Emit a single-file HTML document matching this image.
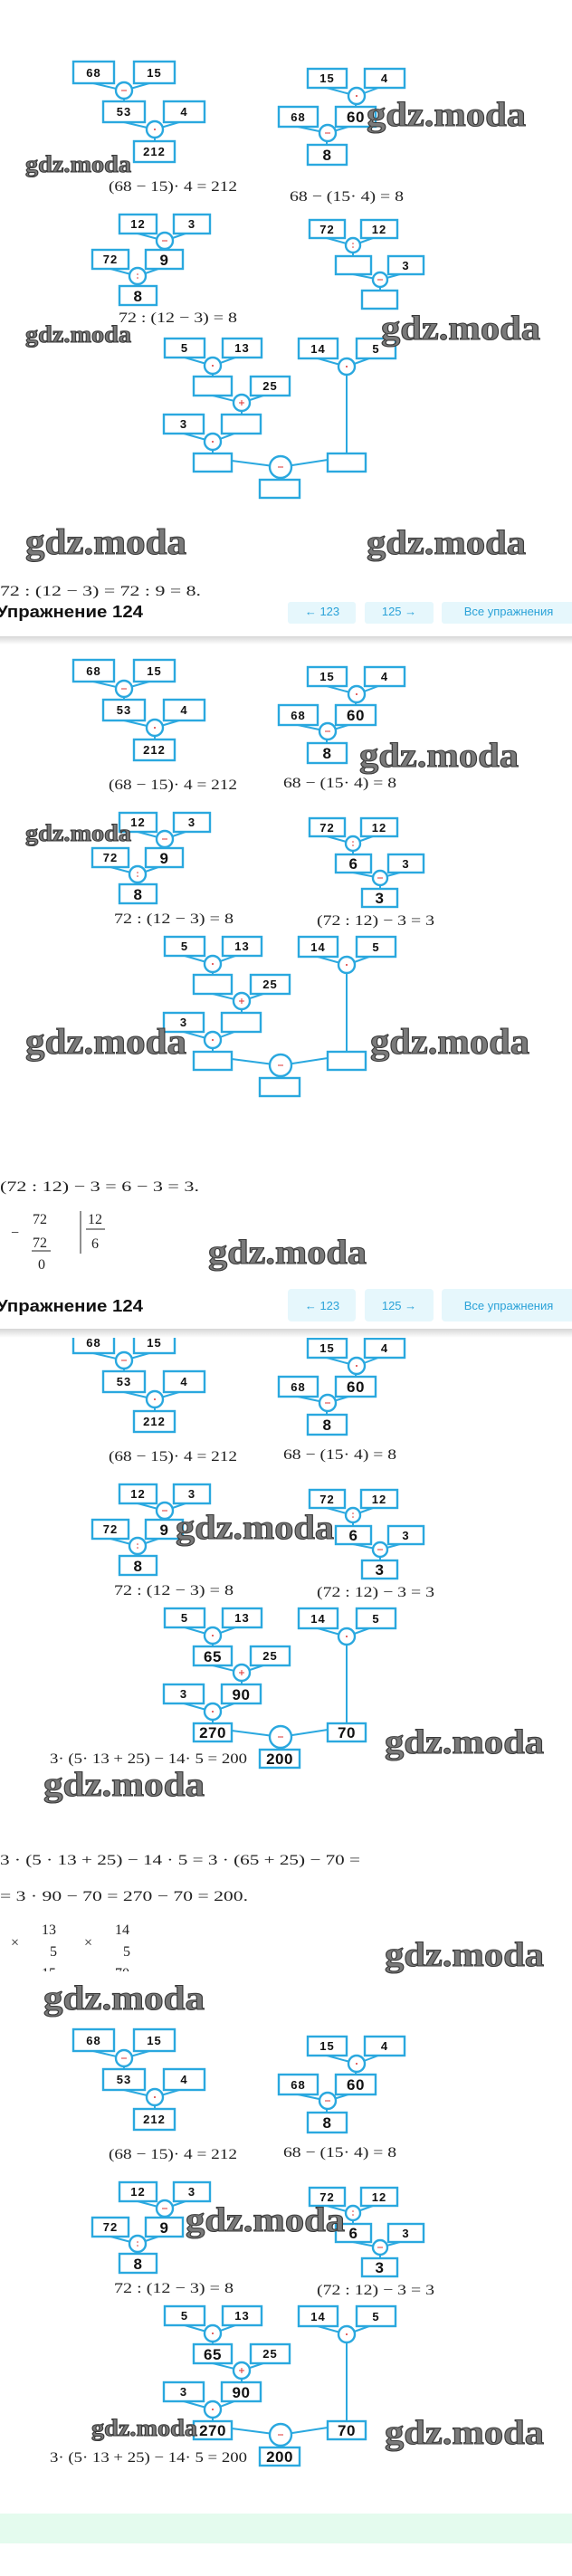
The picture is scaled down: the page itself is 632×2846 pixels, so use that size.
<!DOCTYPE html>
<html><head><meta charset="utf-8"><style>
html,body{margin:0;padding:0;background:#fff;width:632px;height:2846px;overflow:hidden}
svg{display:block}
.n{font-family:"Liberation Sans",sans-serif;font-weight:bold;font-size:13px;letter-spacing:1px;fill:#111;text-anchor:middle}
.b{font-size:17px;letter-spacing:0.5px}
.f{font-family:"Liberation Serif",serif;font-size:16px;fill:#222}
.w{font-family:"Liberation Serif",serif;font-weight:bold;fill:#7a7a7a;stroke:#3a3a3a;stroke-width:1.1}
.h{font-family:"Liberation Sans",sans-serif;font-weight:bold;font-size:18px;fill:#111}
.bt{font-family:"Liberation Sans",sans-serif;font-size:13px;fill:#2aa2d8;text-anchor:middle}
</style></head><body>
<svg width="632" height="2846" viewBox="0 0 632 2846" xmlns="http://www.w3.org/2000/svg">
<defs>
<linearGradient id="sh" x1="0" y1="0" x2="0" y2="1"><stop offset="0" stop-color="#d6d6d6"/><stop offset="1" stop-color="#fff"/></linearGradient>
<g id="t" stroke="#2aa8df" fill="none">
 <g stroke-width="2">
  <line x1="103" y1="92" x2="137" y2="100"/><line x1="165" y1="92" x2="137" y2="100"/><line x1="137" y1="100" x2="137" y2="112"/>
  <line x1="137" y1="135" x2="171" y2="143"/><line x1="198" y1="135" x2="171" y2="143"/><line x1="171" y1="143" x2="171" y2="156"/>
  <line x1="361" y1="97" x2="394" y2="106"/><line x1="418" y1="97" x2="394" y2="106"/><line x1="393" y1="106" x2="393" y2="118"/>
  <line x1="329" y1="140" x2="362" y2="147"/><line x1="385" y1="140" x2="362" y2="147"/><line x1="361" y1="147" x2="361" y2="160"/>
  <line x1="152" y1="258" x2="182" y2="266"/><line x1="205" y1="258" x2="182" y2="266"/><line x1="181" y1="266" x2="181" y2="276"/>
  <line x1="122" y1="297" x2="152" y2="305"/><line x1="175" y1="297" x2="152" y2="305"/><line x1="152" y1="305" x2="152" y2="316"/>
  <line x1="361" y1="263" x2="390" y2="271"/><line x1="412" y1="263" x2="390" y2="271"/><line x1="390" y1="271" x2="390" y2="283"/>
  <line x1="390" y1="303" x2="420" y2="309"/><line x1="442" y1="303" x2="420" y2="309"/><line x1="420" y1="309" x2="420" y2="321"/>
  <line x1="204" y1="395" x2="235" y2="404"/><line x1="260" y1="395" x2="235" y2="404"/><line x1="235" y1="404" x2="235" y2="416"/>
  <line x1="235" y1="437" x2="267" y2="445"/><line x1="291" y1="437" x2="267" y2="445"/><line x1="267" y1="445" x2="267" y2="458"/>
  <line x1="203" y1="479" x2="235" y2="488"/><line x1="259" y1="479" x2="235" y2="488"/><line x1="235" y1="488" x2="235" y2="501"/>
  <line x1="351" y1="396" x2="383" y2="405"/><line x1="408" y1="396" x2="383" y2="405"/><line x1="383" y1="405" x2="383" y2="501"/>
  <line x1="256" y1="509" x2="310" y2="516"/><line x1="362" y1="508" x2="310" y2="516"/><line x1="309" y1="516" x2="309" y2="530"/>
 </g>
 <g stroke-width="2.4" fill="#fff">
  <rect x="81" y="68" width="45" height="24"/><rect x="148" y="68" width="45" height="24"/>
  <rect x="114" y="112" width="46" height="23"/><rect x="181" y="112" width="45" height="23"/>
  <rect x="148" y="156" width="45" height="23"/>
  <rect x="340" y="76" width="43" height="21"/><rect x="403" y="76" width="44" height="21"/>
  <rect x="308" y="118" width="43" height="22"/><rect x="371" y="118" width="44" height="22"/>
  <rect x="340" y="160" width="43" height="22"/>
  <rect x="132" y="237" width="41" height="21"/><rect x="192" y="237" width="40" height="21"/>
  <rect x="102" y="276" width="40" height="21"/><rect x="161" y="276" width="41" height="21"/>
  <rect x="132" y="316" width="41" height="21"/>
  <rect x="342" y="243" width="39" height="20"/><rect x="399" y="243" width="40" height="20"/>
  <rect x="371" y="283" width="39" height="20"/><rect x="429" y="283" width="39" height="20"/>
  <rect x="400" y="321" width="39" height="20"/>
  <rect x="182" y="374" width="44" height="21"/><rect x="246" y="374" width="43" height="21"/>
  <rect x="214" y="416" width="42" height="21"/><rect x="277" y="416" width="43" height="21"/>
  <rect x="181" y="458" width="44" height="21"/><rect x="245" y="458" width="43" height="21"/>
  <rect x="214" y="501" width="42" height="20"/>
  <rect x="330" y="374" width="43" height="22"/><rect x="394" y="374" width="43" height="22"/>
  <rect x="362" y="501" width="42" height="20"/><rect x="287" y="530" width="44" height="20"/>
  <circle cx="137" cy="100" r="9"/><circle cx="171" cy="143" r="9"/>
  <circle cx="394" cy="106" r="9"/><circle cx="362" cy="147" r="9"/>
  <circle cx="182" cy="266" r="9"/><circle cx="152" cy="305" r="9"/>
  <circle cx="390" cy="271" r="8"/><circle cx="420" cy="309" r="8"/>
  <circle cx="235" cy="404" r="9"/><circle cx="267" cy="445" r="9"/><circle cx="235" cy="488" r="9"/>
  <circle cx="383" cy="405" r="9"/><circle cx="310" cy="516" r="12"/>
 </g>
 <g stroke="#d33" stroke-width="1">
  <line x1="134" y1="100" x2="140" y2="100"/><line x1="359" y1="147" x2="365" y2="147"/><line x1="179" y1="266" x2="185" y2="266"/>
  <line x1="417" y1="309" x2="423" y2="309"/><line x1="307" y1="516" x2="313" y2="516"/>
  <line x1="264" y1="445" x2="270" y2="445"/><line x1="267" y1="442" x2="267" y2="448"/>
 </g>
 <g fill="#d33" stroke="none">
  <circle cx="171" cy="143" r="1"/><circle cx="394" cy="106" r="1"/><circle cx="235" cy="404" r="1"/><circle cx="235" cy="488" r="1"/><circle cx="383" cy="405" r="1"/>
  <circle cx="152" cy="303" r="0.8"/><circle cx="152" cy="307" r="0.8"/><circle cx="390" cy="269" r="0.8"/><circle cx="390" cy="273" r="0.8"/>
 </g>
</g>
</defs>

<!-- SECTION 1 -->
<g>
 <use href="#t"/>
 <text class="n" x="103.5" y="85">68</text><text class="n" x="170.5" y="85">15</text>
 <text class="n" x="137" y="128">53</text><text class="n" x="203.5" y="128">4</text>
 <text class="n" x="170.5" y="172">212</text>
 <text class="n" x="361.5" y="91">15</text><text class="n" x="425" y="91">4</text>
 <text class="n" x="329.5" y="134">68</text><text class="n b" x="393" y="135">60</text>
 <text class="n b" x="361.5" y="177">8</text>
 <text class="n" x="152.5" y="252">12</text><text class="n" x="212" y="252">3</text>
 <text class="n" x="122" y="291">72</text><text class="n b" x="181.5" y="293">9</text>
 <text class="n b" x="152.5" y="333">8</text>
 <text class="n" x="361.5" y="258">72</text><text class="n" x="419" y="258">12</text>
 <text class="n" x="448.5" y="298">3</text>
 <text class="n" x="204" y="389">5</text><text class="n" x="267.5" y="389">13</text>
 <text class="n" x="298.5" y="431">25</text><text class="n" x="203" y="473">3</text>
 <text class="n" x="351.5" y="390">14</text><text class="n" x="415.5" y="390">5</text>
 <text class="f" x="120" y="211" textLength="142" lengthAdjust="spacingAndGlyphs">(68 − 15)· 4 = 212</text>
 <text class="f" x="320" y="222" textLength="126" lengthAdjust="spacingAndGlyphs">68 − (15· 4) = 8</text>
 <text class="f" x="131" y="356" textLength="131" lengthAdjust="spacingAndGlyphs">72 : (12 − 3) = 8</text>
 <text class="f" x="0" y="658" textLength="222" lengthAdjust="spacingAndGlyphs">72 : (12 − 3) = 72 : 9 = 8.</text>
</g>

<!-- SECTION 2 -->
<g transform="translate(0,661)">
 <use href="#t"/>
 <text class="n" x="103.5" y="85">68</text><text class="n" x="170.5" y="85">15</text>
 <text class="n" x="137" y="128">53</text><text class="n" x="203.5" y="128">4</text>
 <text class="n" x="170.5" y="172">212</text>
 <text class="n" x="361.5" y="91">15</text><text class="n" x="425" y="91">4</text>
 <text class="n" x="329.5" y="134">68</text><text class="n b" x="393" y="135">60</text>
 <text class="n b" x="361.5" y="177">8</text>
 <text class="n" x="152.5" y="252">12</text><text class="n" x="212" y="252">3</text>
 <text class="n" x="122" y="291">72</text><text class="n b" x="181.5" y="293">9</text>
 <text class="n b" x="152.5" y="333">8</text>
 <text class="n" x="361.5" y="258">72</text><text class="n" x="419" y="258">12</text>
 <text class="n b" x="390.5" y="299">6</text><text class="n" x="448.5" y="298">3</text>
 <text class="n b" x="419.5" y="337">3</text>
 <text class="n" x="204" y="389">5</text><text class="n" x="267.5" y="389">13</text>
 <text class="n" x="298.5" y="431">25</text><text class="n" x="203" y="473">3</text>
 <text class="n" x="351.5" y="390">14</text><text class="n" x="415.5" y="390">5</text>
 <text class="f" x="120" y="211" textLength="142" lengthAdjust="spacingAndGlyphs">(68 − 15)· 4 = 212</text>
 <text class="f" x="313" y="209" textLength="125" lengthAdjust="spacingAndGlyphs">68 − (15· 4) = 8</text>
 <text class="f" x="126" y="359" textLength="132" lengthAdjust="spacingAndGlyphs">72 : (12 − 3) = 8</text>
 <text class="f" x="350" y="361" textLength="130" lengthAdjust="spacingAndGlyphs">(72 : 12) − 3 = 3</text>
</g>
<text class="f" x="0" y="1316" textLength="220" lengthAdjust="spacingAndGlyphs">(72 : 12) − 3 = 6 − 3 = 3.</text>
<text class="f" x="12" y="1367">−</text>
<text class="f" x="36" y="1352">72</text>
<text class="f" x="36" y="1378">72</text>
<line x1="35" y1="1382" x2="56" y2="1382" stroke="#222" stroke-width="1"/>
<text class="f" x="42" y="1402">0</text>
<line x1="89" y1="1338" x2="89" y2="1385" stroke="#222" stroke-width="1"/>
<text class="f" x="97" y="1352">12</text>
<line x1="95" y1="1358" x2="116" y2="1358" stroke="#222" stroke-width="1"/>
<text class="f" x="101" y="1379">6</text>

<!-- SECTION 3 -->
<g transform="translate(0,1403)">
 <use href="#t"/>
 <text class="n" x="103.5" y="85">68</text><text class="n" x="170.5" y="85">15</text>
 <text class="n" x="137" y="128">53</text><text class="n" x="203.5" y="128">4</text>
 <text class="n" x="170.5" y="172">212</text>
 <text class="n" x="361.5" y="91">15</text><text class="n" x="425" y="91">4</text>
 <text class="n" x="329.5" y="134">68</text><text class="n b" x="393" y="135">60</text>
 <text class="n b" x="361.5" y="177">8</text>
 <text class="n" x="152.5" y="252">12</text><text class="n" x="212" y="252">3</text>
 <text class="n" x="122" y="291">72</text><text class="n b" x="181.5" y="293">9</text>
 <text class="n b" x="152.5" y="333">8</text>
 <text class="n" x="361.5" y="258">72</text><text class="n" x="419" y="258">12</text>
 <text class="n b" x="390.5" y="299">6</text><text class="n" x="448.5" y="298">3</text>
 <text class="n b" x="419.5" y="337">3</text>
 <text class="n" x="204" y="389">5</text><text class="n" x="267.5" y="389">13</text>
 <text class="n b" x="235" y="433">65</text><text class="n" x="298.5" y="431">25</text>
 <text class="n" x="203" y="473">3</text><text class="n b" x="266.5" y="475">90</text>
 <text class="n b" x="235" y="517">270</text>
 <text class="n" x="351.5" y="390">14</text><text class="n" x="415.5" y="390">5</text>
 <text class="n b" x="383" y="517">70</text><text class="n b" x="309" y="546">200</text>
 <text class="f" x="120" y="211" textLength="142" lengthAdjust="spacingAndGlyphs">(68 − 15)· 4 = 212</text>
 <text class="f" x="313" y="209" textLength="125" lengthAdjust="spacingAndGlyphs">68 − (15· 4) = 8</text>
 <text class="f" x="126" y="359" textLength="132" lengthAdjust="spacingAndGlyphs">72 : (12 − 3) = 8</text>
 <text class="f" x="350" y="361" textLength="130" lengthAdjust="spacingAndGlyphs">(72 : 12) − 3 = 3</text>
 <text class="f" x="55" y="545" textLength="218" lengthAdjust="spacingAndGlyphs">3· (5· 13 + 25) − 14· 5 = 200</text>
</g>
<text class="f" x="0" y="2060" textLength="398" lengthAdjust="spacingAndGlyphs">3 · (5 · 13 + 25) − 14 · 5 = 3 · (65 + 25) − 70 =</text>
<text class="f" x="0" y="2100" textLength="274" lengthAdjust="spacingAndGlyphs">= 3 · 90 − 70 = 270 − 70 = 200.</text>
<text class="f" x="12" y="2151" fill="#666">×</text>
<text class="f" x="46" y="2137">13</text>
<text class="f" x="55" y="2161">5</text>
<text class="f" x="46" y="2185">15</text>
<text class="f" x="93" y="2151" fill="#666">×</text>
<text class="f" x="127" y="2137">14</text>
<text class="f" x="136" y="2161">5</text>
<text class="f" x="127" y="2185">70</text>
<rect x="0" y="2178" width="632" height="20" fill="#fff"/>

<!-- SECTION 4 -->
<g transform="translate(0,2174)">
 <use href="#t"/>
 <text class="n" x="103.5" y="85">68</text><text class="n" x="170.5" y="85">15</text>
 <text class="n" x="137" y="128">53</text><text class="n" x="203.5" y="128">4</text>
 <text class="n" x="170.5" y="172">212</text>
 <text class="n" x="361.5" y="91">15</text><text class="n" x="425" y="91">4</text>
 <text class="n" x="329.5" y="134">68</text><text class="n b" x="393" y="135">60</text>
 <text class="n b" x="361.5" y="177">8</text>
 <text class="n" x="152.5" y="252">12</text><text class="n" x="212" y="252">3</text>
 <text class="n" x="122" y="291">72</text><text class="n b" x="181.5" y="293">9</text>
 <text class="n b" x="152.5" y="333">8</text>
 <text class="n" x="361.5" y="258">72</text><text class="n" x="419" y="258">12</text>
 <text class="n b" x="390.5" y="299">6</text><text class="n" x="448.5" y="298">3</text>
 <text class="n b" x="419.5" y="337">3</text>
 <text class="n" x="204" y="389">5</text><text class="n" x="267.5" y="389">13</text>
 <text class="n b" x="235" y="433">65</text><text class="n" x="298.5" y="431">25</text>
 <text class="n" x="203" y="473">3</text><text class="n b" x="266.5" y="475">90</text>
 <text class="n b" x="235" y="517">270</text>
 <text class="n" x="351.5" y="390">14</text><text class="n" x="415.5" y="390">5</text>
 <text class="n b" x="383" y="517">70</text><text class="n b" x="309" y="546">200</text>
 <text class="f" x="120" y="211" textLength="142" lengthAdjust="spacingAndGlyphs">(68 − 15)· 4 = 212</text>
 <text class="f" x="313" y="209" textLength="125" lengthAdjust="spacingAndGlyphs">68 − (15· 4) = 8</text>
 <text class="f" x="126" y="359" textLength="132" lengthAdjust="spacingAndGlyphs">72 : (12 − 3) = 8</text>
 <text class="f" x="350" y="361" textLength="130" lengthAdjust="spacingAndGlyphs">(72 : 12) − 3 = 3</text>
 <text class="f" x="55" y="546" textLength="218" lengthAdjust="spacingAndGlyphs">3· (5· 13 + 25) − 14· 5 = 200</text>
</g>
<rect x="0" y="2777" width="632" height="33" fill="#e4fbee"/>

<!-- WATERMARKS -->
<g class="w">
 <text x="28" y="190" font-size="26" textLength="117" lengthAdjust="spacingAndGlyphs">gdz.moda</text>
 <text x="405" y="139" font-size="38" textLength="176" lengthAdjust="spacingAndGlyphs">gdz.moda</text>
 <text x="28" y="378" font-size="26" textLength="117" lengthAdjust="spacingAndGlyphs">gdz.moda</text>
 <text x="421" y="375" font-size="38" textLength="176" lengthAdjust="spacingAndGlyphs">gdz.moda</text>
 <text x="28" y="612" font-size="40" textLength="178" lengthAdjust="spacingAndGlyphs">gdz.moda</text>
 <text x="405" y="612" font-size="38" textLength="176" lengthAdjust="spacingAndGlyphs">gdz.moda</text>
 <text x="397" y="847" font-size="38" textLength="176" lengthAdjust="spacingAndGlyphs">gdz.moda</text>
 <text x="28" y="929" font-size="26" textLength="117" lengthAdjust="spacingAndGlyphs">gdz.moda</text>
 <text x="28" y="1164" font-size="40" textLength="178" lengthAdjust="spacingAndGlyphs">gdz.moda</text>
 <text x="409" y="1164" font-size="40" textLength="176" lengthAdjust="spacingAndGlyphs">gdz.moda</text>
 <text x="230" y="1396" font-size="38" textLength="175" lengthAdjust="spacingAndGlyphs">gdz.moda</text>
 <text x="194" y="1700" font-size="38" textLength="175" lengthAdjust="spacingAndGlyphs">gdz.moda</text>
 <text x="425" y="1937" font-size="38" textLength="176" lengthAdjust="spacingAndGlyphs">gdz.moda</text>
 <text x="48" y="1984" font-size="38" textLength="178" lengthAdjust="spacingAndGlyphs">gdz.moda</text>
 <text x="425" y="2172" font-size="38" textLength="176" lengthAdjust="spacingAndGlyphs">gdz.moda</text>
 <text x="48" y="2220" font-size="38" textLength="178" lengthAdjust="spacingAndGlyphs">gdz.moda</text>
 <text x="205" y="2465" font-size="38" textLength="176" lengthAdjust="spacingAndGlyphs">gdz.moda</text>
 <text x="101" y="2691" font-size="26" textLength="117" lengthAdjust="spacingAndGlyphs">gdz.moda</text>
 <text x="425" y="2700" font-size="38" textLength="176" lengthAdjust="spacingAndGlyphs">gdz.moda</text>
</g>

<!-- HEADER 1 -->
<rect x="0" y="663" width="632" height="42" fill="#fff"/>
<rect x="0" y="703" width="632" height="9" fill="url(#sh)"/>
<text class="h" x="-4" y="682" textLength="162" lengthAdjust="spacingAndGlyphs">Упражнение 124</text>
<rect x="318" y="665" width="75" height="24" rx="3" fill="#e6f7fc"/>
<rect x="403" y="665" width="76" height="24" rx="3" fill="#e6f7fc"/>
<rect x="488" y="665" width="150" height="24" rx="3" fill="#e6f7fc"/>
<text class="bt" x="356" y="680">← 123</text>
<text class="bt" x="441" y="680">125 →</text>
<text class="bt" x="562" y="680">Все упражнения</text>

<!-- HEADER 3 -->
<rect x="0" y="1407" width="632" height="63" fill="#fff"/>
<rect x="0" y="1468" width="632" height="10" fill="url(#sh)"/>
<text class="h" x="-4" y="1449" textLength="162" lengthAdjust="spacingAndGlyphs">Упражнение 124</text>
<rect x="318" y="1424" width="75" height="36" rx="4" fill="#e6f7fc"/>
<rect x="403" y="1424" width="76" height="36" rx="4" fill="#e6f7fc"/>
<rect x="488" y="1424" width="150" height="36" rx="4" fill="#e6f7fc"/>
<text class="bt" x="356" y="1447">← 123</text>
<text class="bt" x="441" y="1447">125 →</text>
<text class="bt" x="562" y="1447">Все упражнения</text>
</svg>
</body></html>
